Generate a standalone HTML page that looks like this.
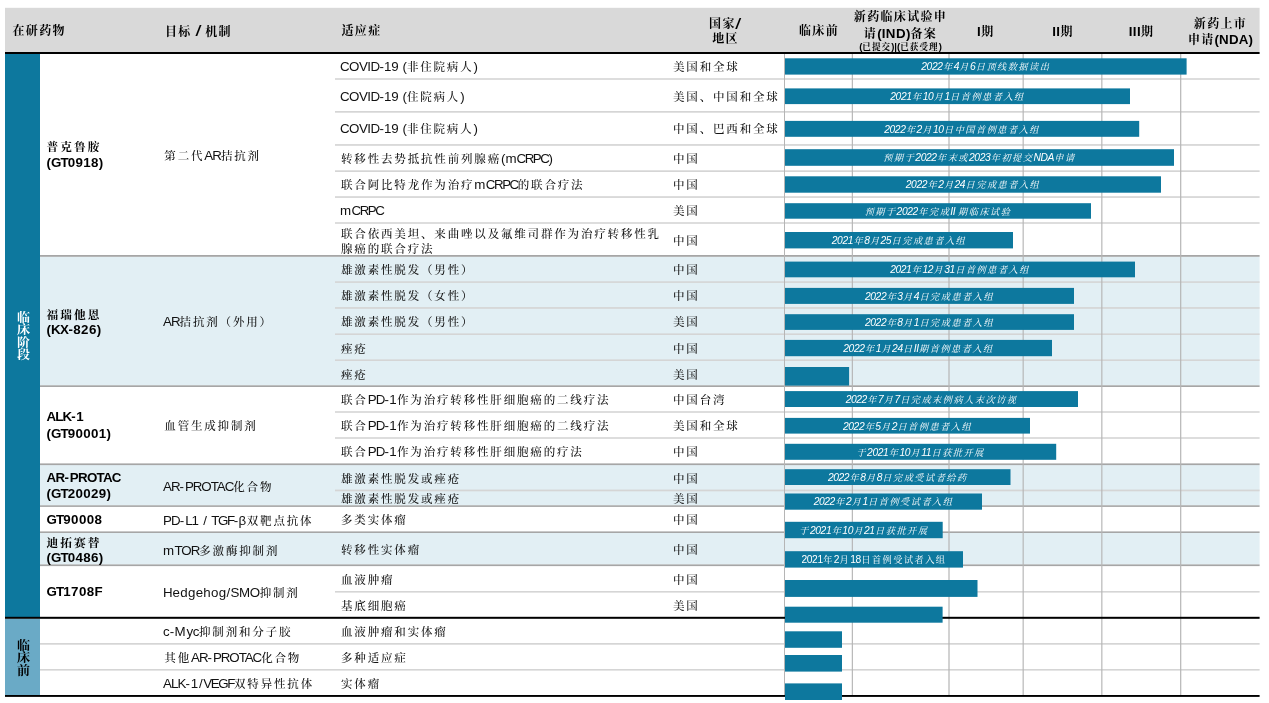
<!DOCTYPE html>
<html lang="zh-CN"><head><meta charset="utf-8"><title>研发管线</title>
<style>
html,body{margin:0;padding:0;background:#fff;}
body{width:1269px;height:703px;position:relative;overflow:hidden;
 font-family:"Liberation Sans","Noto Serif CJK SC",sans-serif;font-size:13.33px;color:#111;}
.a{position:absolute;}
.h{position:absolute;font-weight:700;font-size:12px;letter-spacing:1.33px;line-height:15px;white-space:nowrap;color:#000;}
.h .l{font-style:normal;font-weight:bold;font-size:13.33px;letter-spacing:-.1px;}
.h .l i{font-style:italic;font-size:15px;line-height:10px;position:relative;top:.5px;}
.hc{transform:translateX(-50%);text-align:center;}
.t{position:absolute;white-space:nowrap;line-height:16px;height:16px;margin-top:-7.1px;font-size:11.5px;letter-spacing:1.83px;font-weight:500;}
.l{font-size:13.33px;letter-spacing:.08px;font-weight:400;}
.ind{left:340px;}
.ctry{left:673px;}
.mech{left:164.5px;}
.drug{left:47px;font-weight:700;color:#000;margin-top:-7.3px;font-size:11.7px;letter-spacing:2.1px;}
.drug .l{font-weight:bold;letter-spacing:.1px;position:relative;top:-.8px;}
.bar{position:absolute;left:785px;height:16px;line-height:16px;margin-top:-7.2px;color:#fff;font-size:9.2px;letter-spacing:1.47px;text-align:center;white-space:nowrap;overflow:hidden;}
.bar i{font-style:italic;}
.bar .l{font-size:10.3px;letter-spacing:-.4px;margin-right:.4px;}
.sm{font-size:8.6px;letter-spacing:1px;line-height:11px;display:block;margin-top:-1px;}
.sm .l{font-size:9.5px;letter-spacing:0;}
.side{position:absolute;left:5.5px;width:35px;text-align:center;font-weight:bold;font-size:12.2px;line-height:12.4px;transform:scaleX(1.07);}
</style></head><body>

<svg class="a" style="left:0;top:0;" width="1269" height="703" viewBox="0 0 1269 703">
<rect x="5" y="7.8" width="1254.6" height="44.2" fill="#d9d9d9"/>
<rect x="5" y="52" width="1254.6" height="2" fill="#000"/>
<rect x="39" y="256.8" width="1220.6" height="128.5" fill="#e2eff4"/>
<rect x="39" y="465" width="1220.6" height="40.3" fill="#e2eff4"/>
<rect x="39" y="533" width="1220.6" height="31.4" fill="#e2eff4"/>
<rect x="5" y="54" width="35" height="563" fill="#0d789e"/>
<rect x="5" y="618.8" width="35" height="76.4" fill="#6aaac6"/>
<rect x="335" y="78.2" width="924.6" height="1.6" fill="#d5d5d5"/>
<rect x="335" y="111" width="924.6" height="1.7" fill="#d5d5d5"/>
<rect x="335" y="144.1" width="924.6" height="1.7" fill="#d5d5d5"/>
<rect x="335" y="170.3" width="924.6" height="1.7" fill="#d5d5d5"/>
<rect x="335" y="196.2" width="924.6" height="1.7" fill="#d5d5d5"/>
<rect x="335" y="222.2" width="924.6" height="1.6" fill="#d5d5d5"/>
<rect x="40" y="255" width="1219.6" height="1.8" fill="#a6a6a6"/>
<rect x="335" y="281.3" width="924.6" height="1.6" fill="#d5d5d5"/>
<rect x="335" y="307.1" width="924.6" height="1.7" fill="#d5d5d5"/>
<rect x="335" y="333.4" width="924.6" height="1.6" fill="#d5d5d5"/>
<rect x="335" y="359.4" width="924.6" height="1.6" fill="#d5d5d5"/>
<rect x="40" y="385.3" width="1219.6" height="1.7" fill="#a6a6a6"/>
<rect x="335" y="411.2" width="924.6" height="1.6" fill="#d5d5d5"/>
<rect x="335" y="437.2" width="924.6" height="1.6" fill="#d5d5d5"/>
<rect x="40" y="463.4" width="1219.6" height="1.7" fill="#a6a6a6"/>
<rect x="335" y="489.6" width="924.6" height="1.7" fill="#d5d5d5"/>
<rect x="40" y="505.3" width="1219.6" height="1.6" fill="#a6a6a6"/>
<rect x="40" y="531.4" width="1219.6" height="1.6" fill="#a6a6a6"/>
<rect x="40" y="564.4" width="1219.6" height="1.7" fill="#a6a6a6"/>
<rect x="335" y="591" width="924.6" height="1.6" fill="#d5d5d5"/>
<rect x="40" y="643" width="1219.6" height="1.7" fill="#d5d5d5"/>
<rect x="40" y="669" width="1219.6" height="1.6" fill="#d5d5d5"/>
<rect x="784" y="54" width="1" height="641" fill="#b5b5b5"/>
<rect x="851.77" y="54" width="1.15" height="641" fill="#b5b5b5"/>
<rect x="948.4" y="54" width="1.2" height="641" fill="#b5b5b5"/>
<rect x="1022.58" y="54" width="1.15" height="641" fill="#b5b5b5"/>
<rect x="1101.26" y="54" width="1.16" height="641" fill="#b5b5b5"/>
<rect x="1180.1" y="54" width="1.2" height="641" fill="#b5b5b5"/>
<rect x="5" y="616.8" width="1254.6" height="2" fill="#000"/>
<rect x="5" y="695" width="1254.6" height="1.9" fill="#000"/>
<rect x="785" y="58.3" width="401.6" height="16.3" fill="#0d789e"/>
<rect x="785" y="88.4" width="345" height="15.7" fill="#0d789e"/>
<rect x="785" y="120.9" width="354.2" height="15.9" fill="#0d789e"/>
<rect x="785" y="149.2" width="389" height="16.6" fill="#0d789e"/>
<rect x="785" y="176.3" width="376" height="16.4" fill="#0d789e"/>
<rect x="785" y="203.2" width="306" height="15.5" fill="#0d789e"/>
<rect x="785" y="232" width="228" height="16.4" fill="#0d789e"/>
<rect x="785" y="261.6" width="350" height="15.7" fill="#0d789e"/>
<rect x="785" y="287.9" width="289" height="16" fill="#0d789e"/>
<rect x="785" y="314.2" width="289" height="15.7" fill="#0d789e"/>
<rect x="785" y="339.9" width="267" height="16.3" fill="#0d789e"/>
<rect x="785" y="367" width="64.1" height="18.6" fill="#0d789e"/>
<rect x="785" y="391.1" width="293" height="15.9" fill="#0d789e"/>
<rect x="785" y="417.9" width="245" height="15.7" fill="#0d789e"/>
<rect x="785" y="443.8" width="271.2" height="16" fill="#0d789e"/>
<rect x="785" y="469.2" width="225.5" height="15.8" fill="#0d789e"/>
<rect x="785" y="493.5" width="197" height="16.2" fill="#0d789e"/>
<rect x="785" y="521.8" width="157.7" height="16.4" fill="#0d789e"/>
<rect x="785" y="551.2" width="178" height="16.4" fill="#0d789e"/>
<rect x="785" y="580" width="192.5" height="16.9" fill="#0d789e"/>
<rect x="785" y="606.7" width="157.6" height="16" fill="#0d789e"/>
<rect x="785" y="631.3" width="57" height="16.5" fill="#0d789e"/>
<rect x="785" y="655" width="57" height="16.6" fill="#0d789e"/>
<rect x="785" y="683.4" width="57" height="16.6" fill="#0d789e"/>
</svg>
<div class="side" style="top:311.8px;color:#fff;">临<br>床<br>阶<br>段</div>
<div class="side" style="top:639.7px;color:#000;">临<br>床<br>前</div>
<div class="bar" style="top:66.4px;width:401.6px;"><i><span class="l">2022</span>年<span class="l">4</span>月<span class="l">6</span>日顶线数据读出</i></div>
<div class="bar" style="top:96.2px;width:345.0px;"><i><span class="l">2021</span>年<span class="l">10</span>月<span class="l">1</span>日首例患者入组</i></div>
<div class="bar" style="top:128.9px;width:354.2px;"><i><span class="l">2022</span>年<span class="l">2</span>月<span class="l">10</span>日中国首例患者入组</i></div>
<div class="bar" style="top:157.5px;width:389.0px;"><i>预期于<span class="l">2022</span>年末或<span class="l">2023</span>年初提交<span class="l">NDA</span>申请</i></div>
<div class="bar" style="top:184.5px;width:376.0px;"><i><span class="l">2022</span>年<span class="l">2</span>月<span class="l">24</span>日完成患者入组</i></div>
<div class="bar" style="top:210.9px;width:306.0px;"><i>预期于<span class="l">2022</span>年完成<span class="l">II </span>期临床试验</i></div>
<div class="bar" style="top:240.2px;width:228.0px;"><i><span class="l">2021</span>年<span class="l">8</span>月<span class="l">25</span>日完成患者入组</i></div>
<div class="bar" style="top:269.5px;width:350.0px;"><i><span class="l">2021</span>年<span class="l">12</span>月<span class="l">31</span>日首例患者入组</i></div>
<div class="bar" style="top:295.9px;width:289.0px;"><i><span class="l">2022</span>年<span class="l">3</span>月<span class="l">4</span>日完成患者入组</i></div>
<div class="bar" style="top:322.0px;width:289.0px;"><i><span class="l">2022</span>年<span class="l">8</span>月<span class="l">1</span>日完成患者入组</i></div>
<div class="bar" style="top:348.0px;width:267.0px;"><i><span class="l">2022</span>年<span class="l">1</span>月<span class="l">24</span>日<span class="l">II</span>期首例患者入组</i></div>
<div class="bar" style="top:399.1px;width:293.0px;"><i><span class="l">2022</span>年<span class="l">7</span>月<span class="l">7</span>日完成末例病人末次访视</i></div>
<div class="bar" style="top:425.8px;width:245.0px;"><i><span class="l">2022</span>年<span class="l">5</span>月<span class="l">2</span>日首例患者入组</i></div>
<div class="bar" style="top:451.8px;width:271.2px;"><i>于<span class="l">2021</span>年<span class="l">10</span>月<span class="l">11</span>日获批开展</i></div>
<div class="bar" style="top:477.1px;width:225.5px;"><i><span class="l">2022</span>年<span class="l">8</span>月<span class="l">8</span>日完成受试者给药</i></div>
<div class="bar" style="top:501.6px;width:197.0px;"><i><span class="l">2022</span>年<span class="l">2</span>月<span class="l">1</span>日首例受试者入组</i></div>
<div class="bar" style="top:530.0px;width:157.7px;"><i>于<span class="l">2021</span>年<span class="l">10</span>月<span class="l">21</span>日获批开展</i></div>
<div class="bar" style="top:559.4px;width:178.0px;"><span class="l">2021</span>年<span class="l">2</span>月<span class="l">18</span>日首例受试者入组</div>
<div class="h" style="left:12.5px;top:23.5px;">在研药物</div>
<div class="h" style="left:165px;top:23.5px;">目标<span class="l" style="letter-spacing:0.63px"> <i>/</i> </span>机制</div>
<div class="h" style="left:341.5px;top:23.5px;">适应症</div>
<div class="h hc" style="left:725.5px;top:16px;">国家<span class="l" style="letter-spacing:2.00px"><i>/</i></span><br>地区</div>
<div class="h hc" style="left:819px;top:23.5px;">临床前</div>
<div class="h hc" style="left:900.5px;top:10px;line-height:15.5px;">新药临床试验申<br>请<span class="l" style="letter-spacing:0.07px">(</span><span class="l" style="letter-spacing:0.43px">IND</span><span class="l" style="letter-spacing:0.07px">)</span>备案<br><span class="sm"><span class="l" style="letter-spacing:0.05px">(</span>已提交<span class="l" style="letter-spacing:0.03px">)|(</span>已获受理<span class="l" style="letter-spacing:0.05px">)</span></span></div>
<div class="h hc ph" style="left:985.8px;top:23.5px;"><span class="l" style="letter-spacing:0.39px">I</span>期</div>
<div class="h hc ph" style="left:1063px;top:23.5px;"><span class="l" style="letter-spacing:0.39px">II</span>期</div>
<div class="h hc ph" style="left:1141.6px;top:23.5px;"><span class="l" style="letter-spacing:0.39px">III</span>期</div>
<div class="h hc" style="left:1220.5px;top:16.5px;">新药上市<br>申请<span class="l" style="letter-spacing:0.07px">(</span><span class="l" style="letter-spacing:0.20px">NDA</span><span class="l" style="letter-spacing:0.07px">)</span></div>
<div class="t ind" style="top:66.3px;left:340.0px;"><span class="l" style="letter-spacing:-0.54px">COVID</span><span class="l" style="letter-spacing:-0.01px">-19 (</span>非住院病人<span class="l" style="letter-spacing:-0.41px">)</span></div>
<div class="t ctry" style="top:66.3px;">美国和全球</div>
<div class="t ind" style="top:96.3px;left:340.0px;"><span class="l" style="letter-spacing:-0.54px">COVID</span><span class="l" style="letter-spacing:-0.01px">-19 (</span>住院病人<span class="l" style="letter-spacing:-0.41px">)</span></div>
<div class="t ctry" style="top:96.3px;">美国、中国和全球</div>
<div class="t ind" style="top:128.5px;left:340.0px;"><span class="l" style="letter-spacing:-0.54px">COVID</span><span class="l" style="letter-spacing:-0.01px">-19 (</span>非住院病人<span class="l" style="letter-spacing:-0.41px">)</span></div>
<div class="t ctry" style="top:128.5px;">中国、巴西和全球</div>
<div class="t ind" style="top:158.0px;left:341.0px;">转移性去势抵抗性前列腺癌<span class="l" style="letter-spacing:-0.02px">(m</span><span class="l" style="letter-spacing:-1.46px">CRPC</span><span class="l" style="letter-spacing:-0.41px">)</span></div>
<div class="t ctry" style="top:158.0px;">中国</div>
<div class="t ind" style="top:184.5px;left:341.0px;">联合阿比特龙作为治疗<span class="l" style="letter-spacing:0.37px">m</span><span class="l" style="letter-spacing:-1.46px">CRPC</span>的联合疗法</div>
<div class="t ctry" style="top:184.5px;">中国</div>
<div class="t ind" style="top:210.3px;left:340.0px;"><span class="l" style="letter-spacing:0.37px">m</span><span class="l" style="letter-spacing:-1.46px">CRPC</span></div>
<div class="t ctry" style="top:210.3px;">美国</div>
<div class="t ind" style="top:241.6px;left:341px;white-space:normal;width:325px;line-height:15px;height:30px;margin-top:-15px;">联合依西美坦、来曲唑以及氟维司群作为治疗转移性乳腺癌的联合疗法</div>
<div class="t ctry" style="top:240.3px;">中国</div>
<div class="t ind" style="top:269.5px;left:341.0px;">雄激素性脱发（男性）</div>
<div class="t ctry" style="top:269.5px;">中国</div>
<div class="t ind" style="top:295.5px;left:341.0px;">雄激素性脱发（女性）</div>
<div class="t ctry" style="top:295.5px;">中国</div>
<div class="t ind" style="top:321.5px;left:341.0px;">雄激素性脱发（男性）</div>
<div class="t ctry" style="top:321.5px;">美国</div>
<div class="t ind" style="top:347.8px;left:341.0px;">痤疮</div>
<div class="t ctry" style="top:347.8px;">中国</div>
<div class="t ind" style="top:373.8px;left:341.0px;">痤疮</div>
<div class="t ctry" style="top:373.8px;">美国</div>
<div class="t ind" style="top:399.5px;left:341.0px;">联合<span class="l" style="letter-spacing:-0.85px">PD</span><span class="l" style="letter-spacing:0.33px">-1</span>作为治疗转移性肝细胞癌的二线疗法</div>
<div class="t ctry" style="top:399.5px;">中国台湾</div>
<div class="t ind" style="top:425.5px;left:341.0px;">联合<span class="l" style="letter-spacing:-0.85px">PD</span><span class="l" style="letter-spacing:0.33px">-1</span>作为治疗转移性肝细胞癌的二线疗法</div>
<div class="t ctry" style="top:425.5px;">美国和全球</div>
<div class="t ind" style="top:451.5px;left:341.0px;">联合<span class="l" style="letter-spacing:-0.85px">PD</span><span class="l" style="letter-spacing:0.33px">-1</span>作为治疗转移性肝细胞癌的疗法</div>
<div class="t ctry" style="top:451.5px;">中国</div>
<div class="t ind" style="top:477.8px;left:341.0px;">雄激素性脱发或痤疮</div>
<div class="t ctry" style="top:477.8px;">中国</div>
<div class="t ind" style="top:498.5px;left:341.0px;">雄激素性脱发或痤疮</div>
<div class="t ctry" style="top:498.5px;">美国</div>
<div class="t ind" style="top:519.5px;left:341.0px;">多类实体瘤</div>
<div class="t ctry" style="top:519.5px;">中国</div>
<div class="t ind" style="top:549.3px;left:341.0px;">转移性实体瘤</div>
<div class="t ctry" style="top:549.3px;">中国</div>
<div class="t ind" style="top:579.0px;left:341.0px;">血液肿瘤</div>
<div class="t ctry" style="top:579.0px;">中国</div>
<div class="t ind" style="top:605.0px;left:341.0px;">基底细胞癌</div>
<div class="t ctry" style="top:605.0px;">美国</div>
<div class="t ind" style="top:631.5px;left:341.0px;">血液肿瘤和实体瘤</div>
<div class="t ind" style="top:657.3px;left:341.0px;">多种适应症</div>
<div class="t ind" style="top:683.0px;left:341.0px;">实体瘤</div>
<div class="t mech" style="top:155.5px;left:164.3px;">第二代<span class="l" style="letter-spacing:-0.97px">AR</span>拮抗剂</div>
<div class="t mech" style="top:321.5px;left:163.0px;"><span class="l" style="letter-spacing:-0.97px">AR</span>拮抗剂（外用）</div>
<div class="t mech" style="top:425.5px;left:164.3px;">血管生成抑制剂</div>
<div class="t mech" style="top:486.0px;left:163.0px;"><span class="l" style="letter-spacing:-0.97px">AR</span><span class="l" style="letter-spacing:0.89px">-</span><span class="l" style="letter-spacing:-1.04px">PROTAC</span>化合物</div>
<div class="t mech" style="top:520.3px;left:163.0px;"><span class="l" style="letter-spacing:-0.85px">PD</span><span class="l" style="letter-spacing:0.89px">-</span><span class="l" style="letter-spacing:-1.15px">L</span><span class="l" style="letter-spacing:0.29px">1 / </span><span class="l" style="letter-spacing:-1.35px">TGF</span><span class="l" style="letter-spacing:0.45px">-β</span>双靶点抗体</div>
<div class="t mech" style="top:549.8px;left:163.0px;"><span class="l" style="letter-spacing:0.37px">m</span><span class="l" style="letter-spacing:-1.04px">TOR</span>多激酶抑制剂</div>
<div class="t mech" style="top:592.4px;left:163.0px;"><span class="l" style="letter-spacing:-0.16px">H</span><span class="l" style="letter-spacing:0.31px">edgehog/</span><span class="l" style="letter-spacing:-0.43px">SMO</span>抑制剂</div>
<div class="t mech" style="top:631.5px;left:163.0px;"><span class="l" style="letter-spacing:0.19px">c-</span><span class="l" style="letter-spacing:0.85px">M</span><span class="l" style="letter-spacing:-0.37px">yc</span>抑制剂和分子胶</div>
<div class="t mech" style="top:657.3px;left:164.3px;">其他<span class="l" style="letter-spacing:-0.97px">AR</span><span class="l" style="letter-spacing:0.89px">-</span><span class="l" style="letter-spacing:-1.04px">PROTAC</span>化合物</div>
<div class="t mech" style="top:683.0px;left:163.0px;"><span class="l" style="letter-spacing:-0.87px">ALK</span><span class="l" style="letter-spacing:0.72px">-1/</span><span class="l" style="letter-spacing:-1.40px">VEGF</span>双特异性抗体</div>
<div class="t drug" style="top:146.6px;left:46.4px;">普克鲁胺</div>
<div class="t drug" style="top:163.0px;left:46.5px;"><span class="l" style="letter-spacing:0.07px">(</span><span class="l" style="letter-spacing:-0.87px">GT</span><span class="l" style="letter-spacing:0.33px">0918)</span></div>
<div class="t drug" style="top:314.0px;left:46.4px;">福瑞他恩</div>
<div class="t drug" style="top:330.3px;left:46.5px;"><span class="l" style="letter-spacing:0.07px">(</span><span class="l" style="letter-spacing:-0.57px">KX</span><span class="l" style="letter-spacing:0.43px">-826)</span></div>
<div class="t drug" style="top:417.5px;left:46.5px;"><span class="l" style="letter-spacing:-0.91px">ALK</span><span class="l" style="letter-spacing:0.65px">-1</span></div>
<div class="t drug" style="top:434.0px;left:46.5px;"><span class="l" style="letter-spacing:0.07px">(</span><span class="l" style="letter-spacing:-0.87px">GT</span><span class="l" style="letter-spacing:0.34px">90001)</span></div>
<div class="t drug" style="top:477.7px;left:46.5px;"><span class="l" style="letter-spacing:-0.63px">AR</span><span class="l" style="letter-spacing:0.89px">-</span><span class="l" style="letter-spacing:-0.73px">PROTAC</span></div>
<div class="t drug" style="top:494.5px;left:46.5px;"><span class="l" style="letter-spacing:0.07px">(</span><span class="l" style="letter-spacing:-0.87px">GT</span><span class="l" style="letter-spacing:0.34px">20029)</span></div>
<div class="t drug" style="top:520.0px;left:46.5px;"><span class="l" style="letter-spacing:-0.87px">GT</span><span class="l" style="letter-spacing:0.40px">90008</span></div>
<div class="t drug" style="top:542.0px;left:46.4px;">迪拓赛替</div>
<div class="t drug" style="top:558.0px;left:46.5px;"><span class="l" style="letter-spacing:0.07px">(</span><span class="l" style="letter-spacing:-0.87px">GT</span><span class="l" style="letter-spacing:0.33px">0486)</span></div>
<div class="t drug" style="top:592.0px;left:46.5px;"><span class="l" style="letter-spacing:-0.87px">GT</span><span class="l" style="letter-spacing:0.40px">1708</span><span class="l" style="letter-spacing:-1.29px">F</span></div>
</body></html>
